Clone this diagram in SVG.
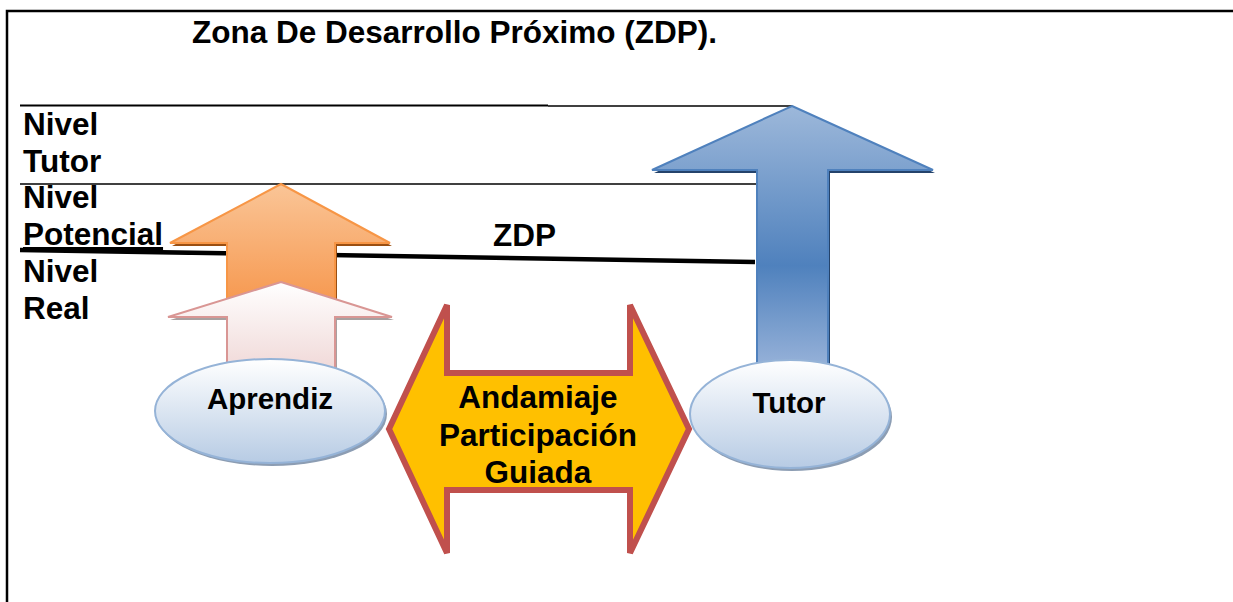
<svg xmlns="http://www.w3.org/2000/svg" width="1233" height="602" viewBox="0 0 1233 602">
<defs>
<linearGradient id="gOr" x1="0" y1="0" x2="0" y2="1"><stop offset="0" stop-color="#FAC597"/><stop offset="1" stop-color="#F6954A"/></linearGradient>
<linearGradient id="gWh" x1="0" y1="0" x2="0" y2="1"><stop offset="0" stop-color="#FFFFFF"/><stop offset="1" stop-color="#F0D8D7"/></linearGradient>
<linearGradient id="gBl" x1="0" y1="0" x2="0" y2="1"><stop offset="0" stop-color="#9DB8DA"/><stop offset="0.6" stop-color="#4F81BD"/><stop offset="1" stop-color="#9AB4DA"/></linearGradient>
<linearGradient id="gEl" x1="0" y1="0" x2="0" y2="1"><stop offset="0" stop-color="#FFFFFF"/><stop offset="1" stop-color="#B7CBE4"/></linearGradient>
</defs>
<style>
text{font-family:"Liberation Sans",Arial,sans-serif;font-weight:bold;fill:#000}
.t{font-size:31.5px}
.e{font-size:29.5px}
.ell{fill:url(#gEl);stroke:#95B3D7;stroke-width:2}
.esh{fill:#8C9DB3}
</style>
<rect width="1233" height="602" fill="#fff"/>
<g id="frame" fill="none" stroke="#000" stroke-width="2.5">
<path d="M7 602 V11 H1233"/>
</g>
<g id="title"><text class="t" x="192" y="43">Zona De Desarrollo Próximo (ZDP).</text></g>
<g id="connectors" stroke="#000" fill="none">
<line x1="20" y1="105.5" x2="548" y2="105.5" stroke-width="2"/>
<line x1="548" y1="106" x2="792" y2="106" stroke-width="1.5"/>
<line x1="20" y1="184" x2="756" y2="184" stroke-width="1.6"/>
<line x1="20" y1="250" x2="755" y2="262" stroke-width="4.5"/>
</g>
<g id="labels">
<text class="t" x="23" y="135">Nivel</text>
<text class="t" x="23" y="172">Tutor</text>
<text class="t" x="23" y="208">Nivel</text>
<text class="t" x="23" y="245" text-decoration="underline">Potencial</text>
<text class="t" x="23" y="282">Nivel</text>
<text class="t" x="23" y="319">Real</text>
<text class="t" x="493" y="246">ZDP</text>
</g>
<g id="arrow-potencial">
<polygon points="281,184 390,243 335,243 335,312 227,312 227,243 170,243" fill="#9A4F12" transform="translate(2,3)"/>
<polygon points="281,184 390,243 335,243 335,312 227,312 227,243 170,243" fill="url(#gOr)" stroke="#F79646" stroke-width="2" stroke-linejoin="miter"/>
</g>
<g id="arrow-real">
<polygon points="281,282 392,317 335,317 335,372 227,372 227,317 168,317" fill="#A8A0A0" transform="translate(2,3)"/>
<polygon points="281,282 392,317 335,317 335,372 227,372 227,317 168,317" fill="url(#gWh)" stroke="#D99694" stroke-width="2"/>
</g>
<g id="arrow-tutor">
<polygon points="792,106 933,170 828,170 828,372 757,372 757,170 652,170" fill="#24436B" transform="translate(2,3)"/>
<polygon points="792,106 933,170 828,170 828,372 757,372 757,170 652,170" fill="url(#gBl)" stroke="#4F81BD" stroke-width="2"/>
</g>
<g id="aprendiz">
<ellipse class="esh" cx="272" cy="414" rx="115" ry="52"/>
<ellipse class="ell" cx="270" cy="411" rx="115" ry="52"/>
<text class="e" x="270" y="409" text-anchor="middle">Aprendiz</text>
</g>
<g id="tutor">
<ellipse class="esh" cx="792" cy="417" rx="100" ry="54"/>
<ellipse class="ell" cx="790" cy="414" rx="100" ry="54"/>
<text class="e" x="789" y="413" text-anchor="middle">Tutor</text>
</g>
<g id="andamiaje">
<polygon points="389,429 447,305 447,373 630,373 630,305 689,429 630,553 630,490 447,490 447,553" fill="#FFC000" stroke="#C0504D" stroke-width="6" stroke-linejoin="miter"/>
<text class="t" x="538" y="408" text-anchor="middle">Andamiaje</text>
<text class="t" x="538" y="446" text-anchor="middle">Participación</text>
<text class="t" x="538" y="483" text-anchor="middle">Guiada</text>
</g>
</svg>
